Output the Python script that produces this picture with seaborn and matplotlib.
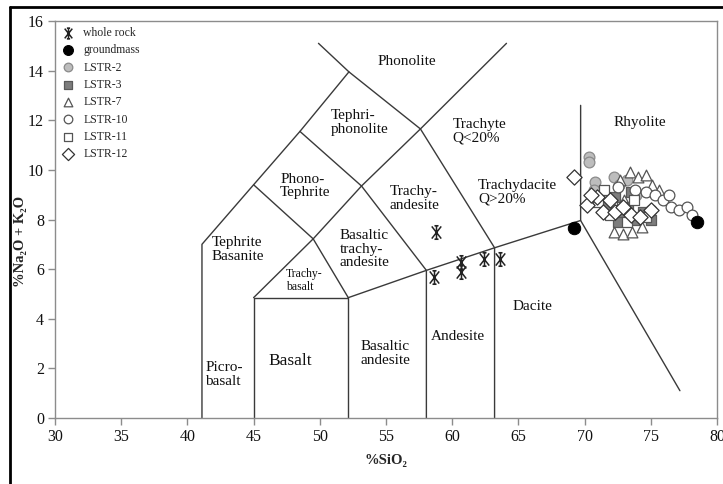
"""TAS classification diagram (total alkali vs silica) with sample points."""

import matplotlib

matplotlib.use("Agg")

import matplotlib.pyplot as plt
import seaborn as sns
from matplotlib.lines import Line2D
from matplotlib.path import Path

# --- data -----------------------------------------------------------------
# field boundaries of the TAS diagram (SiO2, Na2O+K2O)
BOUNDARY_X = [
    [41.1, 41.1, 45.0, 48.5, 52.2],
    [49.9, 52.2, 57.6, 64.1],
    [48.5, 53.15],
    [45.0, 49.5],
    [45.0, 45.0, 52.15, 52.15],
    [45.0, 49.5, 52.15],
    [49.5, 53.15, 57.6],
    [53.15, 58.05, 58.05],
    [57.6, 63.2, 63.2],
    [52.15, 58.05, 63.2, 69.7],
    [69.7, 69.7, 77.2],
]
BOUNDARY_Y = [
    [0.0, 7.0, 9.4, 11.55, 13.95],
    [15.1, 13.95, 11.65, 15.1],
    [11.55, 9.35],
    [9.4, 7.22],
    [0.0, 4.85, 4.85, 0.0],
    [4.85, 7.22, 4.85],
    [7.22, 9.35, 11.65],
    [9.35, 5.95, 0.0],
    [11.65, 6.86, 0.0],
    [4.85, 5.95, 6.86, 7.96],
    [12.6, 7.96, 1.1],
]

FIELD_NAMES = [
    "Phonolite", "Tephri-\nphonolite", "Phono-\nTephrite", "Tephrite\nBasanite",
    "Trachy-\nbasalt", "Picro-\nbasalt", "Basalt", "Basaltic\ntrachy-\nandesite",
    "Basaltic\nandesite", "Trachy-\nandesite", "Trachyte\nQ<20%",
    "Trachydacite\nQ>20%", "Rhyolite", "Andesite", "Dacite",
]
FIELD_X = [56.6, 50.85, 47.0, 41.85, 47.45, 41.35, 47.75, 51.5,
           53.05, 55.3, 60.05, 61.95, 74.2, 60.4, 66.1]
FIELD_Y = [14.35, 11.9, 9.35, 6.8, 5.55, 1.75, 2.3, 6.8,
           2.6, 8.85, 11.55, 9.1, 11.9, 3.3, 4.5]

WR_SIO2 = [58.8, 58.6, 60.7, 60.7, 62.4, 63.6]
WR_ALK = [7.5, 5.7, 6.3, 5.9, 6.4, 6.4]

GM_SIO2 = [69.2, 78.5]
GM_ALK = [7.65, 7.9]

LSTR2_SIO2 = [70.3, 70.3, 70.8, 70.7, 72.2, 72.6, 73.2, 71.6, 73.9]
LSTR2_ALK = [10.5, 10.3, 9.5, 9.2, 9.7, 9.4, 9.6, 8.9, 9.0]

LSTR3_SIO2 = [71.6, 72.3, 72.8, 73.3, 73.8, 74.4, 72.5, 73.5, 75.0]
LSTR3_ALK = [8.6, 8.9, 8.2, 8.5, 8.0, 8.3, 7.9, 9.1, 8.0]

LSTR7_SIO2 = [72.7, 73.4, 74.0, 74.6, 75.1, 72.2, 72.9, 73.6, 74.3, 73.0, 75.6]
LSTR7_ALK = [9.6, 9.9, 9.7, 9.8, 9.4, 7.5, 7.4, 7.5, 7.7, 8.8, 9.2]

LSTR10_SIO2 = [73.8, 74.6, 75.3, 75.9, 76.5, 77.1, 77.7, 78.1, 76.4, 75.0, 72.5]
LSTR10_ALK = [9.2, 9.1, 9.0, 8.8, 8.5, 8.4, 8.5, 8.2, 9.0, 8.4, 9.3]

LSTR11_SIO2 = [71.0, 71.9, 72.8, 73.7, 74.6, 71.5, 73.2]
LSTR11_ALK = [8.7, 8.2, 8.5, 8.8, 8.1, 9.2, 7.9]

LSTR12_SIO2 = [69.2, 70.2, 70.9, 71.4, 71.9, 72.3, 72.9, 73.5, 74.2, 75.0, 70.5]
LSTR12_ALK = [9.7, 8.6, 8.9, 8.3, 8.8, 8.3, 8.5, 8.2, 8.1, 8.4, 9.0]

# --- styling --------------------------------------------------------------
SERIF = ["Liberation Serif", "DejaVu Serif"]

# asterisk with short caps, like the spreadsheet "star" marker
STAR = Path(
    [(0, -1), (0, 1), (-0.7, -0.9), (0.7, 0.9), (-0.7, 0.9), (0.7, -0.9),
     (-0.3, 1), (0.3, 1), (-0.3, -1), (0.3, -1)],
    [Path.MOVETO, Path.LINETO] * 5,
)

GROUPS = [
    ("LSTR-2", LSTR2_SIO2, LSTR2_ALK, dict(marker="o", color="#bdbdbd", edgecolor="#8a8a8a")),
    ("LSTR-3", LSTR3_SIO2, LSTR3_ALK, dict(marker="s", color="#7d7d7d", edgecolor="#5a5a5a")),
    ("LSTR-7", LSTR7_SIO2, LSTR7_ALK, dict(marker="^", color="white", edgecolor="#555555")),
    ("LSTR-10", LSTR10_SIO2, LSTR10_ALK, dict(marker="o", color="white", edgecolor="#555555")),
    ("LSTR-11", LSTR11_SIO2, LSTR11_ALK, dict(marker="s", color="white", edgecolor="#555555")),
    ("LSTR-12", LSTR12_SIO2, LSTR12_ALK, dict(marker="D", color="white", edgecolor="#333333")),
]


def main() -> None:
    sns.set_style("white")
    plt.rcParams["font.family"] = SERIF

    fig = plt.figure(figsize=(7.23, 4.84), dpi=100)
    ax = fig.add_axes([55 / 723, 1 - 418 / 484, 662 / 723, 397 / 484])

    for xs, ys in zip(BOUNDARY_X, BOUNDARY_Y):
        ax.plot(xs, ys, color="#3a3a3a", lw=1.0, zorder=1)

    # whole rock and groundmass first so they lead the legend
    sns.scatterplot(x=WR_SIO2, y=WR_ALK, marker=STAR, s=95, color="#222222",
                    edgecolor="#222222", linewidth=1.1, label="whole rock",
                    ax=ax, zorder=4)
    sns.scatterplot(x=GM_SIO2, y=GM_ALK, marker="o", s=80, color="black",
                    edgecolor="black", label="groundmass", ax=ax, zorder=4)
    for name, xs, ys, style in GROUPS:
        sns.scatterplot(x=xs, y=ys, s=60, linewidth=0.9, label=name, ax=ax,
                        zorder=3, **style)

    for text, x, y in zip(FIELD_NAMES, FIELD_X, FIELD_Y):
        size = 11
        ha = "left"
        if text == "Trachy-\nbasalt":
            size = 8.5
        elif text in ("Basalt", "Phonolite", "Rhyolite", "Andesite", "Dacite"):
            ha = "center"
            size = 12.5 if text == "Basalt" else 11
        ax.text(x, y, text, fontsize=size, ha=ha, va="center",
                multialignment="left", linespacing=1.05, color="#111111", zorder=2)

    ax.set_xlim(30, 80)
    ax.set_ylim(0, 16)
    ax.set_xticks(range(30, 81, 5))
    ax.set_yticks(range(0, 17, 2))
    ax.tick_params(direction="out", length=5, width=1, color="#8c8c8c",
                   labelsize=11.5, labelcolor="#111111", pad=3,
                   bottom=True, left=True)
    for spine in ax.spines.values():
        spine.set_color("#8c8c8c")
        spine.set_linewidth(1.0)

    ax.set_xlabel("%SiO\u2082", fontsize=10.5, fontweight="bold")
    ax.set_ylabel("%Na\u2082O + K\u2082O", fontsize=10.5, fontweight="bold")
    ax.xaxis.set_label_coords(0.5, -0.09)
    ax.yaxis.set_label_coords(-0.042, 0.446)

    ax.legend(loc="upper left", bbox_to_anchor=(0.0106, 0.985), frameon=False,
              fontsize=8.5, borderaxespad=0, borderpad=0, handlelength=1.0,
              handletextpad=0.8, labelspacing=0.45, markerscale=0.8)

    # black border around the picture (top and left edges)
    fig.add_artist(Line2D([10 / 723, 10 / 723], [0, 1 - 7 / 484], color="black", lw=2))
    fig.add_artist(Line2D([10 / 723, 1], [1 - 7 / 484, 1 - 7 / 484], color="black", lw=2))

    fig.savefig("out.png", dpi=100)
    plt.close(fig)


if __name__ == "__main__":
    main()
